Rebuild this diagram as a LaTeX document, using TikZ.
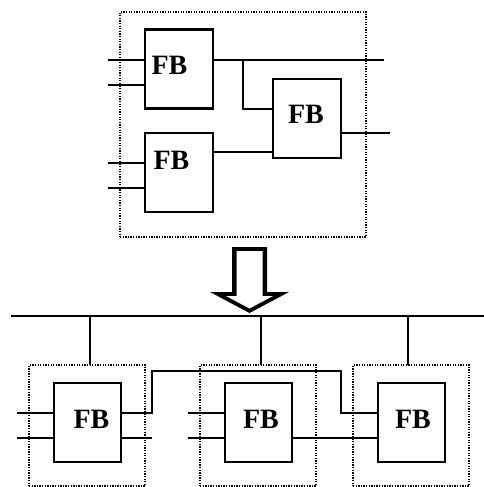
\documentclass[tikz,border=0pt]{standalone}
\usepackage{fontspec}
\setmainfont{Liberation Serif}
\begin{document}
\begin{tikzpicture}[x=1pt,y=-1pt,
  fb/.style={draw,line width=2.1pt,minimum width=#1,minimum height=79pt,inner sep=0pt,outer sep=0pt},
  fbtxt/.style={inner sep=0pt,font=\bfseries\fontsize{28}{28}\selectfont},
  frame/.style={draw,line width=2pt,dash pattern=on 1.3pt off 1.3pt,inner sep=0pt,outer sep=0pt},
  wire/.style={line width=2pt},
  bus/.style={line width=2.8pt}]
\useasboundingbox (0,0) rectangle (484,487);
% ---------- top composite ----------
\node[frame,minimum width=246pt,minimum height=225pt] (ftop) at (243,124.5) {};
\node[fb=68pt] (b1) at (179,69) {};
\node[fb=68pt] (b2) at (179,172.5) {};
\node[fb=68pt] (b3) at (307,118.5) {};
\node[fbtxt] (t1) at (169.5,65) {FB};
\node[fbtxt] (t2) at (171.5,160) {FB};
\node[fbtxt] (t3) at (306,114) {FB};
\coordinate (i1a) at (108,60);
\coordinate (i1b) at (108,85);
\coordinate (i2a) at (108,163);
\coordinate (i2b) at (108,188);
\coordinate (o1) at (384,60);
\coordinate (o3) at (390,133);
\coordinate (br) at (243,60);
\draw[wire] (i1a) -- (i1a -| b1.west);
\draw[wire] (i1b) -- (i1b -| b1.west);
\draw[wire] (i2a) -- (i2a -| b2.west);
\draw[wire] (i2b) -- (i2b -| b2.west);
\draw[wire] (o1 -| b1.east) -- (o1);
\draw[wire] (br) -- (243,109) -- (b3.west |- 0,109);
\draw[wire] (b2.east |- 0,152) -- (b3.west |- 0,152);
\draw[wire] (b3.east |- o3) -- (o3);
% ---------- arrow ----------
\fill[black] (232,247) -- (267,247) -- (267,292) -- (289,292) -- (249.5,313) -- (210,292) -- (232,292) -- cycle;
\fill[white] (236.5,251) -- (262.5,251) -- (262.5,296) -- (273,296) -- (249.5,308.5) -- (226,296) -- (236.5,296) -- cycle;
% ---------- bottom distributed ----------
\coordinate (busL) at (11,316);
\coordinate (busR) at (484,316);
\draw[bus] (busL) -- (busR);
\node[frame,minimum width=116pt,minimum height=121pt] (f4) at (87,425.5) {};
\node[frame,minimum width=116pt,minimum height=121pt] (f5) at (258,425.5) {};
\node[frame,minimum width=116pt,minimum height=121pt] (f6) at (411,425.5) {};
\draw[wire] (90,316) -- (f4.north -| 90,0);
\draw[wire] (261,316) -- (f5.north -| 261,0);
\draw[wire] (408,316) -- (f6.north -| 408,0);
\node[fb=67pt] (b4) at (87.5,422.5) {};
\node[fb=67pt] (b5) at (258.5,422.5) {};
\node[fb=67pt] (b6) at (411.5,422.5) {};
\node[fbtxt] (t4) at (91.5,419) {FB};
\node[fbtxt] (t5) at (261,419) {FB};
\node[fbtxt] (t6) at (413,419) {FB};
\coordinate (i4a) at (17,413);
\coordinate (i4b) at (17,438);
\coordinate (i5a) at (188,413);
\coordinate (i5b) at (188,438);
\coordinate (o4b) at (152,438);
\draw[wire] (i4a) -- (i4a -| b4.west);
\draw[wire] (i4b) -- (i4b -| b4.west);
\draw[wire] (i5a) -- (i5a -| b5.west);
\draw[wire] (i5b) -- (i5b -| b5.west);
\draw[wire] (o4b -| b4.east) -- (o4b);
\draw[wire] (b4.east |- 0,413) -- (152,413) -- (152,371) -- (341,371) -- (341,413) -- (b6.west |- 0,413);
\draw[wire] (b5.east |- 0,438) -- (b6.west |- 0,438);
\end{tikzpicture}
\end{document}
